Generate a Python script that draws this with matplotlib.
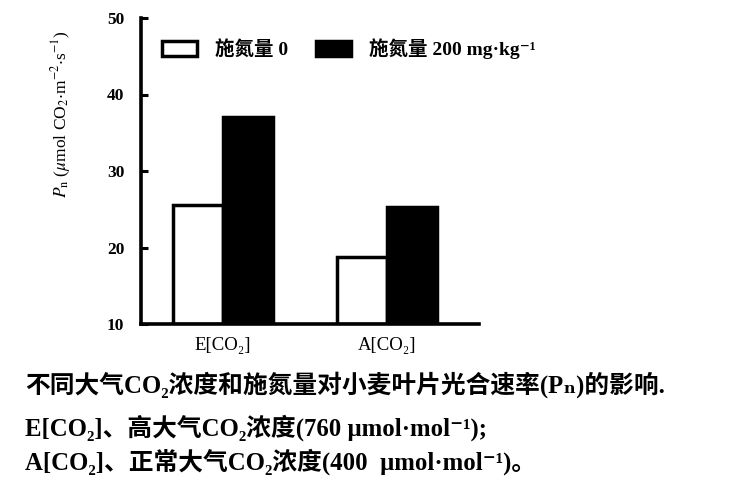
import matplotlib
matplotlib.use("Agg")
import matplotlib.pyplot as plt
import numpy as np

plt.rcParams["mathtext.fontset"] = "stix"

categories = ["E[CO₂]", "A[CO₂]"]
n0_values = [25.6, 18.8]
n200_values = [37.1, 25.3]
series_labels = ["施氮量 0", "施氮量 200 mg·kg⁻¹"]
yticks = [10, 20, 30, 40, 50]
caption_lines = [
    "不同大气CO₂浓度和施氮量对小麦叶片光合速率(Pₙ)的影响.",
    "E[CO₂]、高大气CO₂浓度(760 μmol·mol⁻¹);",
    "A[CO₂]、正常大气CO₂浓度(400  μmol·mol⁻¹)。",
]

serif = ["Liberation Serif", "Noto Sans CJK SC", "DejaVu Serif", "DejaVu Sans"]

fig = plt.figure(figsize=(7.5, 5), dpi=100)
ax = fig.add_axes([0.188, 0.352, 0.451, 0.612])

x = np.arange(len(categories))
w = 0.305
ax.bar(x - w / 2, [v - 10 for v in n0_values], w, bottom=10, color="white",
       edgecolor="black", linewidth=2.5, label=series_labels[0])
ax.bar(x + w / 2, [v - 10 for v in n200_values], w, bottom=10, color="black",
       edgecolor="black", linewidth=2.5, label=series_labels[1])

ax.set_xlim(-0.5, 1.56)
ax.set_ylim(10, 50)
ax.set_yticks(yticks)
ax.set_yticklabels([str(t) for t in yticks], family=serif, fontsize=12.5, fontweight="bold")
ax.set_xticks(x)
ax.set_xticklabels(categories, family=serif, fontsize=13.5)
ax.tick_params(axis="y", direction="in", length=5, width=2.2, pad=12)
ax.tick_params(axis="x", length=0, pad=9)
for s in ["top", "right"]:
    ax.spines[s].set_visible(False)
for s in ["left", "bottom"]:
    ax.spines[s].set_linewidth(2.6)

ax.set_ylabel(r"$P_\mathrm{n}$ ($\mu$mol CO$_2$$\cdot$m$^{-2}$$\cdot$s$^{-1}$)",
              family=serif, fontsize=12.5)
ax.yaxis.set_label_coords(-0.2, 0.685)

leg = ax.legend(loc="upper left", bbox_to_anchor=(0.01, 0.99), ncol=2, frameon=False,
                prop={"family": serif, "weight": "bold", "size": 14},
                handlelength=1.8, handleheight=0.75, columnspacing=1.45, handletextpad=0.93)

ys = [0.23, 0.145, 0.077]
for line, yy in zip(caption_lines, ys):
    fig.text(0.033, yy, line, family=serif, fontweight="bold", fontsize=17.8, va="center")

fig.savefig("out.png", dpi=100)
